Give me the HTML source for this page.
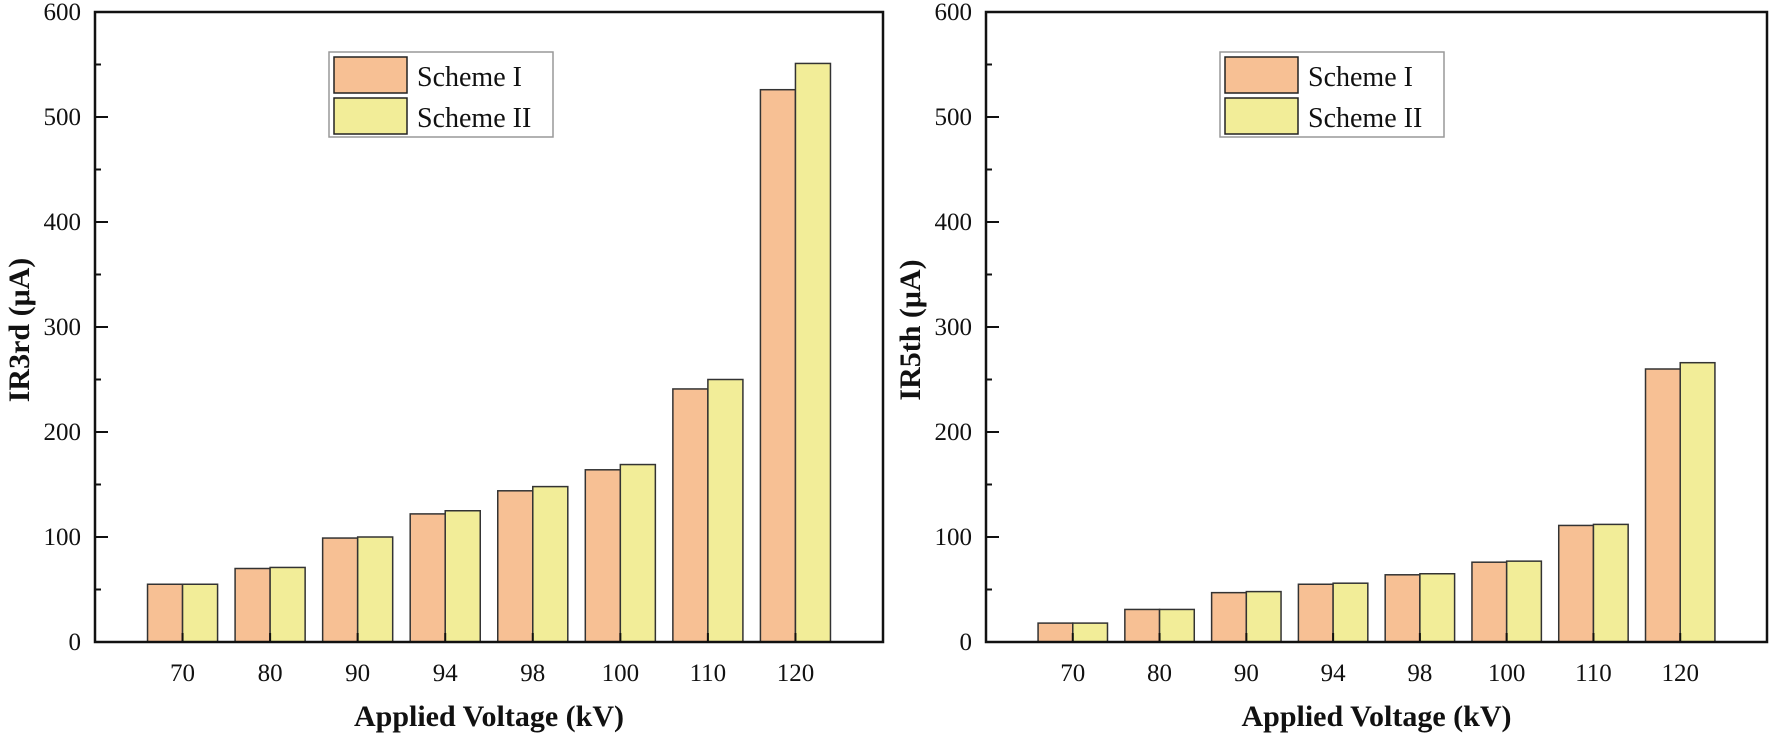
<!DOCTYPE html>
<html><head><meta charset="utf-8"><style>
html,body{margin:0;padding:0;background:#fff;}
svg{display:block;font-family:"Liberation Serif",serif;}
</style></head><body>
<svg id="chart" width="1772" height="735" viewBox="0 0 1772 735" xmlns="http://www.w3.org/2000/svg"></svg>
<script>
const categories = ["70","80","90","94","98","100","110","120"];
const leftScheme1 = [55,70,99,122,144,164,241,526];
const leftScheme2 = [55,71,100,125,148,169,250,551];
const rightScheme1 = [18,31,47,55,64,76,111,260];
const rightScheme2 = [18,31,48,56,65,77,112,266];
const yTicks = [0,100,200,300,400,500,600];
const seriesNames = ["Scheme I","Scheme II"];
const seriesColors = ["#f7c094","#f2ed98"];

const svg = document.getElementById('chart');
const NS = 'http://www.w3.org/2000/svg';
function mk(tag, attrs, parent){
  const e = document.createElementNS(NS, tag);
  for (const k in attrs) e.setAttribute(k, attrs[k]);
  (parent||svg).appendChild(e);
  return e;
}

function drawPanel(name, x0, x1, yTitle, s1, s2){
  const top = 12, bottom = 642;
  const g = mk('g', {});
  
  
  const yScale = v => bottom - (v/600)*(bottom-top);
  const step = (x1-x0)/(categories.length+1);
  const xScale = i => x0 + (i+1)*step;
  const bw = step*0.4;
  [s1, s2].forEach((series, si) => {
    series.forEach((v, i) => {
      const bx = xScale(i) - bw + si*bw;
      const r = mk('rect', {x:bx, y:yScale(v), width:bw, height:bottom-yScale(v), fill:seriesColors[si], stroke:'#333', 'stroke-width':1.5}, g);
      
      
    });
  });
  const fr = mk('rect', {x:x0, y:top, width:x1-x0, height:bottom-top, fill:'none', stroke:'#111', 'stroke-width':2.5}, g);
  
  
  yTicks.forEach(t => {
    const y = yScale(t);
    mk('line', {x1:x0, x2:x0+13, y1:y, y2:y, stroke:'#111', 'stroke-width':2}, g);
    const tx = mk('text', {x:x0-14, y:y+8, 'text-anchor':'end', 'font-size':25, fill:'#111'}, g);
    tx.textContent = t;
    
    
    if (t < 600) {
      const ym = yScale(t+50);
      mk('line', {x1:x0, x2:x0+6, y1:ym, y2:ym, stroke:'#111', 'stroke-width':2}, g);
    }
  });
  categories.forEach((c, i) => {
    const x = xScale(i);
    mk('line', {x1:x, x2:x, y1:bottom, y2:bottom-9, stroke:'#111', 'stroke-width':2}, g);
    const tx = mk('text', {x:x, y:681, 'text-anchor':'middle', 'font-size':25, fill:'#111'}, g);
    tx.textContent = c;
    
    
  });
  const xt = mk('text', {x:(x0+x1)/2, y:726, 'text-anchor':'middle', 'font-size':30, 'font-weight':'bold', fill:'#111'}, g);
  xt.textContent = 'Applied Voltage (kV)';
  
  
  const yx = x0 - 66, yy = (top+bottom)/2 + 3;
  const yt = mk('text', {x:yx, y:yy, 'text-anchor':'middle', 'font-size':30, 'font-weight':'bold', fill:'#111', transform:'rotate(-90 '+yx+' '+yy+')'}, g);
  yt.textContent = yTitle;
  
  
  const lx = x0 + 234, ly = 52;
  const lg = mk('g', {}, g);
  
  
  mk('rect', {x:lx, y:ly, width:224, height:85, fill:'#fff', stroke:'#999', 'stroke-width':1.5}, lg);
  seriesNames.forEach((n, si) => {
    const sy = ly + 5 + si*41;
    const sw = mk('rect', {x:lx+5, y:sy, width:73, height:36, fill:seriesColors[si], stroke:'#222', 'stroke-width':1.5}, lg);
    
    
    const lt = mk('text', {x:lx+88, y:sy+29, 'font-size':28, fill:'#111'}, lg);
    lt.textContent = n;
    
    
  });
}

drawPanel('left-chart', 95, 883, 'IR3rd (\u03bcA)', leftScheme1, leftScheme2);
drawPanel('right-chart', 986, 1767, 'IR5th (\u03bcA)', rightScheme1, rightScheme2);
</script>
</body></html>
